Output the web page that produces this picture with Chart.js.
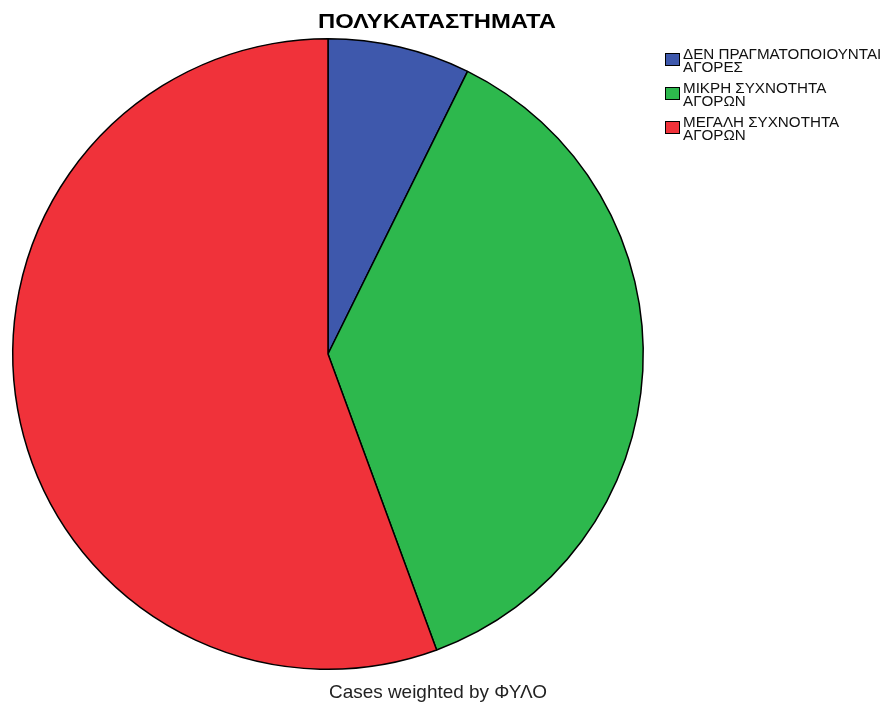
<!DOCTYPE html>
<html>
<head>
<meta charset="utf-8">
<script src="https://cdn.jsdelivr.net/npm/chart.js"></script>
<style>
  html, body { margin: 0; padding: 0; background: #fff; }
  canvas { display: block; }
</style>
</head>
<body>
<canvas id="chartStores" width="884" height="706"></canvas>
<script>
const chartTitle = "ΠΟΛΥΚΑΤΑΣΤΗΜΑΤΑ";
const footNote = "Cases weighted by ΦΥΛΟ";
const categories = [
  ["ΔΕΝ ΠΡΑΓΜΑΤΟΠΟΙΟΥΝΤΑΙ", "ΑΓΟΡΕΣ"],
  ["ΜΙΚΡΗ ΣΥΧΝΟΤΗΤΑ", "ΑΓΟΡΩΝ"],
  ["ΜΕΓΑΛΗ ΣΥΧΝΟΤΗΤΑ", "ΑΓΟΡΩΝ"]
];
const percents = [7.3, 37.1, 55.6];
const sliceColors = ["#3e58ac", "#2db84d", "#f0323a"];

// centred text, widened a little to the given width
function wideText(ctx, text, cx, y, width) {
  const sx = width / ctx.measureText(text).width;
  ctx.save();
  ctx.translate(cx, y);
  ctx.scale(sx, 1);
  ctx.textAlign = "center";
  ctx.fillText(text, 0, 0);
  ctx.restore();
}

// title, footnote and the boxed legend on the right
const decorations = {
  id: "decorations",
  afterDraw(chart) {
    const ctx = chart.ctx;
    ctx.save();
    ctx.fillStyle = "#000";
    ctx.textBaseline = "alphabetic";
    ctx.font = "bold 20px 'Liberation Sans', Arial, sans-serif";
    wideText(ctx, chartTitle, 437, 27.5, 238);

    ctx.fillStyle = "#222";
    ctx.font = "19px 'Liberation Sans', Arial, sans-serif";
    wideText(ctx, footNote, 438, 698, 218);

    ctx.textAlign = "left";
    ctx.font = "15.2px 'Liberation Sans', Arial, sans-serif";
    const tops = [53, 87, 121];
    chart.data.labels.forEach((lines, i) => {
      const y = tops[i];
      ctx.fillStyle = chart.data.datasets[0].backgroundColor[i];
      ctx.fillRect(665, y, 15, 13);
      ctx.strokeStyle = "#000";
      ctx.lineWidth = 1;
      ctx.strokeRect(665.5, y + 0.5, 14, 12);
      ctx.fillStyle = "#111";
      lines.forEach((t, j) => ctx.fillText(t, 683, y + 6 + j * 12.8));
    });
    ctx.restore();
  }
};

new Chart(document.getElementById("chartStores"), {
  type: "pie",
  data: {
    labels: categories,
    datasets: [{
      data: percents,
      backgroundColor: sliceColors,
      borderColor: "#000",
      borderWidth: 1.5
    }]
  },
  options: {
    responsive: false,
    animation: false,
    layout: { padding: { left: 12, right: 240, top: 38, bottom: 36 } },
    plugins: {
      legend: { display: false },
      tooltip: { enabled: false }
    }
  },
  plugins: [decorations]
});
</script>
</body>
</html>
